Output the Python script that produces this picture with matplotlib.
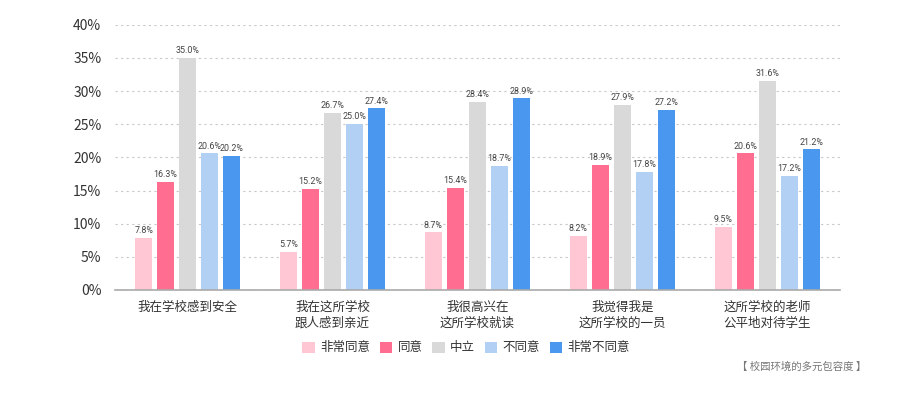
import matplotlib
matplotlib.use("Agg")
import matplotlib.pyplot as plt
import numpy as np

plt.rcParams['font.family'] = ['Noto Sans CJK SC', 'DejaVu Sans']

categories = ["我在学校感到安全", "我在这所学校\n跟人感到亲近", "我很高兴在\n这所学校就读",
              "我觉得我是\n这所学校的一员", "这所学校的老师\n公平地对待学生"]
series_names = ["非常同意", "同意", "中立", "不同意", "非常不同意"]
strongly_agree = [7.8, 5.7, 8.7, 8.2, 9.5]
agree = [16.3, 15.2, 15.4, 18.9, 20.6]
neutral = [35.0, 26.7, 28.4, 27.9, 31.6]
disagree = [20.6, 25.0, 18.7, 17.8, 17.2]
strongly_disagree = [20.2, 27.4, 28.9, 27.2, 21.2]
yticks = [0, 5, 10, 15, 20, 25, 30, 35, 40]
colors = ["#FFC6D4", "#FF6E90", "#D9D9D9", "#B2D0F4", "#4A97EF"]

series = [strongly_agree, agree, neutral, disagree, strongly_disagree]

fig = plt.figure(figsize=(9, 3.94), dpi=100)
ax = fig.add_axes([0.128, 0.264, 0.805, 0.673])

x = np.arange(len(categories))
step = 0.152
width = 0.118
for i, (vals, c, name) in enumerate(zip(series, colors, series_names)):
    pos = x + (i - 2) * step
    ax.bar(pos, vals, width=width, color=c, label=name, zorder=3)
    for p, v in zip(pos, vals):
        ax.annotate(f"{v:.1f}%", (p, v), xytext=(0, 2), textcoords='offset points',
                    ha='center', va='bottom', fontsize=6.4,
                    color='#444444', family=['Roboto', 'DejaVu Sans'])

ax.set_xlim(-0.5, 4.5)
ax.set_ylim(0, 40)
ax.set_yticks(yticks)
ax.set_yticklabels([f"{t}%" for t in yticks], fontsize=10, color='#333333')
ax.set_xticks(x)
ax.set_xticklabels(categories, fontsize=9, color='#333333', linespacing=1.3)
ax.tick_params(axis='both', length=0, pad=8)
ax.tick_params(axis='y', pad=10)
ax.grid(axis='y', linestyle=(0, (2, 3)), color='#C8C8C8', linewidth=0.8, zorder=0)
for s in ['top', 'right', 'left']:
    ax.spines[s].set_visible(False)
ax.spines['bottom'].set_color('#AAAAAA')
ax.spines['bottom'].set_linewidth(1.2)
ax.spines['bottom'].set_zorder(4)

leg = fig.legend(loc='center', bbox_to_anchor=(0.518, 0.117), ncol=5, frameon=False,
                 fontsize=9, handlelength=1.0, handleheight=1.0, handletextpad=0.4,
                 columnspacing=0.8)
for t in leg.get_texts():
    t.set_color('#333333')

fig.text(0.962, 0.07, "【 校园环境的多元包容度 】", ha='right', va='center', fontsize=7.5, color='#777777')

fig.savefig("out.png", dpi=100)
